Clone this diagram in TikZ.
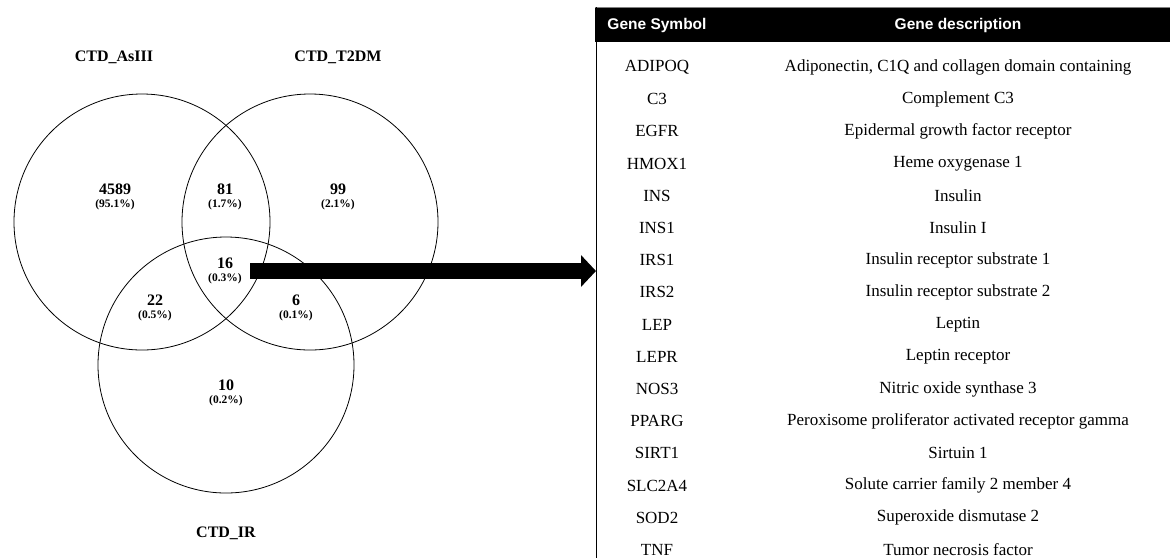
\documentclass[tikz,border=0pt]{standalone}
\usepackage{fontspec}
\setmainfont{Liberation Serif}
\newfontfamily\hdrfont{Liberation Sans}
\usetikzlibrary{arrows.meta}
\tikzset{
  setlabel/.style={font=\fontsize{16}{18}\selectfont\bfseries},
  cnt/.style={align=center, inner sep=0pt, font=\fontsize{16}{14}\selectfont\bfseries},
  hdr/.style={text=white, font=\hdrfont\fontsize{15.5}{17}\selectfont\bfseries},
  row/.style={font=\fontsize{17}{19}\selectfont}
}
\newcommand{\pct}[1]{\\[-1pt]{\fontsize{11.5}{12}\selectfont(#1\%)}}
\begin{document}
\begin{tikzpicture}[x=1pt,y=-1pt]
\useasboundingbox (0,0) rectangle (1170,558);
% Venn diagram
\draw[line width=0.8pt] (142,222) circle (128);
\draw[line width=0.8pt] (310,222) circle (128);
\draw[line width=0.8pt] (226,365) circle (128);
\node[setlabel] (lAs) at (114,57) {CTD\_AsIII};
\node[setlabel] (lT2) at (338,57) {CTD\_T2DM};
\node[setlabel] (lIR) at (226,533) {CTD\_IR};
% counts
\node[cnt] (nAs)  at (115,197) {4589\pct{95.1}};
\node[cnt] (nAT)  at (225,197) {81\pct{1.7}};
\node[cnt] (nT)   at (338,197) {99\pct{2.1}};
\node[cnt] (nAll) at (225,271) {16\pct{0.3}};
\node[cnt] (nAI)  at (155,308) {22\pct{0.5}};
\node[cnt] (nTI)  at (296,308) {6\pct{0.1}};
\node[cnt] (nI)   at (226,393) {10\pct{0.2}};
% Pfeil zur Tabelle
\coordinate (arrS) at (250,271);
\coordinate (arrE) at (596,271);
\draw[line width=16pt, -{Triangle[length=15pt,width=31pt]}] (arrS) -- (arrE);
% Tabelle
\fill[black] (595,7) rectangle (1170,42);
\draw[gray, line width=0.6pt] (595,7) -- (1170,7);
\draw[line width=0.8pt] (596,7) -- (596,558);
\node[hdr] (hSym)  at (657,25) {Gene Symbol};
\node[hdr] (hDesc) at (958,25) {Gene description};
\foreach \sym/\desc [count=\i from 0] in {
  ADIPOQ/{Adiponectin, C1Q and collagen domain containing},
  C3/Complement C3,
  EGFR/Epidermal growth factor receptor,
  HMOX1/Heme oxygenase 1,
  INS/Insulin,
  INS1/Insulin I,
  IRS1/Insulin receptor substrate 1,
  IRS2/Insulin receptor substrate 2,
  LEP/Leptin,
  LEPR/Leptin receptor,
  NOS3/Nitric oxide synthase 3,
  PPARG/Peroxisome proliferator activated receptor gamma,
  SIRT1/Sirtuin 1,
  SLC2A4/Solute carrier family 2 member 4,
  SOD2/Superoxide dismutase 2,
  TNF/Tumor necrosis factor}{
  \node[row] (sym\i) at (657,67+32.2*\i) {\sym};
  \node[row] (desc\i) at (958,67+32.2*\i) {\desc};
}
\end{tikzpicture}
\end{document}
